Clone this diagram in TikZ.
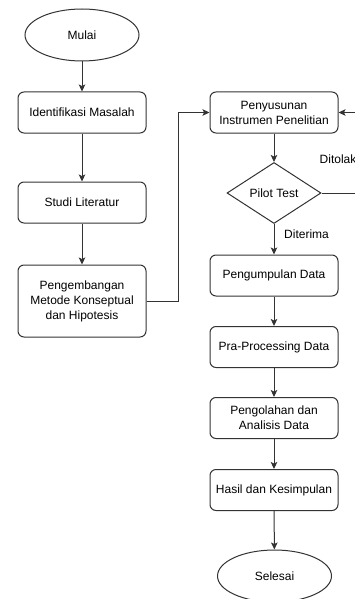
\documentclass[tikz,border=0pt]{standalone}
\usepackage{fontspec}
\setmainfont{Liberation Sans}
\usetikzlibrary{shapes.geometric,arrows.meta}
\definecolor{linec}{HTML}{333333}
\begin{document}
\begin{tikzpicture}[x=1pt,y=-1pt,
  every node/.style={font=\fontsize{12}{15}\selectfont, text=black},
  box/.style={draw=linec, line width=1pt, rounded corners=6pt, minimum width=128pt, minimum height=41pt, align=center, inner sep=2pt},
  term/.style={ellipse, draw=linec, line width=1pt, minimum width=114pt, minimum height=52pt, inner sep=0pt},
  dec/.style={diamond, draw=linec, line width=1pt, minimum width=94pt, minimum height=61pt, aspect=1.54, inner sep=0pt},
  arr/.style={draw=linec, line width=1pt, -{Stealth[length=7pt,width=6.5pt,inset=1.5pt]}},
  lab/.style={anchor=west, inner sep=0pt}]
\useasboundingbox (0,0) rectangle (355,599);
\clip (0,0) rectangle (355,599);
% left column
\node[term] (mulai) at (82,35) {Mulai};
\node[box] (ident) at (82,112.5) {Identifikasi Masalah};
\node[box] (studi) at (82,202.5) {Studi Literatur};
\node[box, minimum height=72pt] (peng) at (82,301) {Pengembangan\\Metode Konseptual\\dan Hipotesis};
% right column
\node[box] (peny) at (274,112.5) {Penyusunan\\Instrumen Penelitian};
\node[dec] (pilot) at (274,193) {Pilot Test};
\node[box] (kump) at (274,275.5) {Pengumpulan Data};
\node[box] (pra) at (274,347) {Pra-Processing Data};
\node[box] (olah) at (274,418) {Pengolahan dan\\Analisis Data};
\node[box] (hasil) at (274,490) {Hasil dan Kesimpulan};
\node[term] (selesai) at (274.5,576) {Selesai};
% labels
\node[lab] (ditolak) at (319.5,159) {Ditolak};
\node[lab] (diterima) at (284,234) {Diterima};
% connectors
\coordinate (c1) at (178,301);
\coordinate (c2) at (380,150);
\draw[arr] (mulai) -- (ident);
\draw[arr] (ident) -- (studi);
\draw[arr] (studi) -- (peng);
\draw[arr] (peng.east) -- (c1) |- (peny.west);
\draw[arr] (peny) -- (pilot);
\draw[arr] (pilot) -- (kump);
\draw[arr] (pilot.east) -| (c2) |- (peny.east);
\draw[arr] (kump) -- (pra);
\draw[arr] (pra) -- (olah);
\draw[arr] (olah) -- (hasil);
\draw[arr] (hasil) -- (selesai);
\end{tikzpicture}
\end{document}
